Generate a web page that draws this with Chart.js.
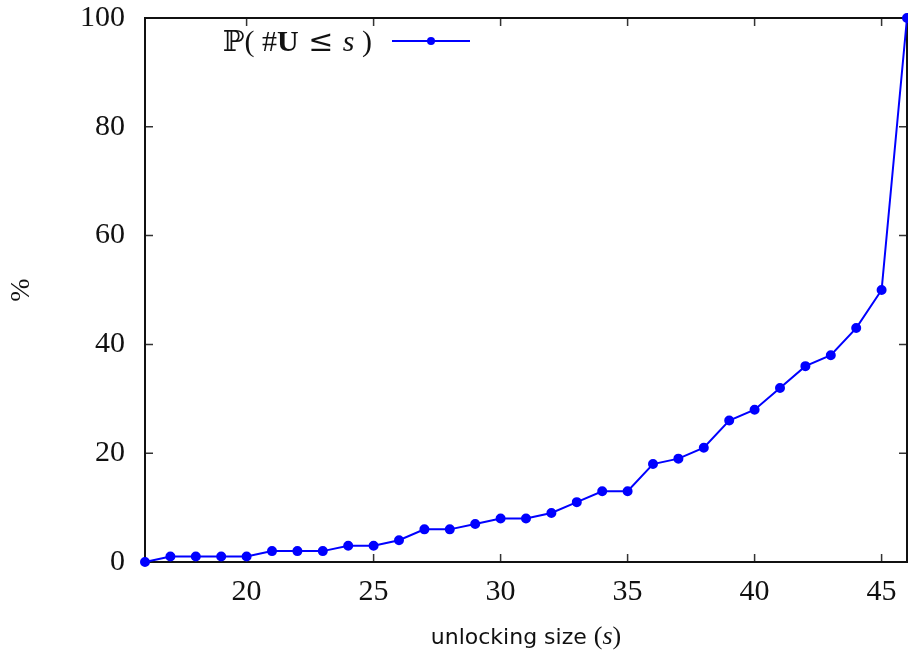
<!DOCTYPE html>
<html>
<head>
<meta charset="utf-8">
<script src="https://cdn.jsdelivr.net/npm/chart.js@4.4.0/dist/chart.umd.min.js"></script>
<style>
  html, body { margin: 0; padding: 0; background: #fff; }
  #wrap { width: 908px; height: 651px; }
</style>
</head>
<body>
<div id="wrap"><canvas id="unlock"></canvas></div>
<script>
// unlocking size s and cumulative share (%) of runs with #U <= s
const SIZES = [16, 17, 18, 19, 20, 21, 22, 23, 24, 25, 26, 27, 28, 29, 30, 31,
  32, 33, 34, 35, 36, 37, 38, 39, 40, 41, 42, 43, 44, 45, 46]
const PROB = [0, 1, 1, 1, 1, 2, 2, 2, 3, 3, 4, 6, 6, 7, 8, 8,
  9, 11, 13, 13, 18, 19, 21, 26, 28, 32, 36, 38, 43, 50, 100]
const X_TICKS = [20, 25, 30, 35, 40, 45]
const Y_TICKS = [0, 20, 40, 60, 80, 100]

const SERIF = '"Liberation Serif", "DejaVu Serif", serif'
const SANS = '"DejaVu Sans", "Liberation Sans", sans-serif'
const BLUE = '#0000ff'

// draws a run of differently styled text pieces, returns end x
const drawPieces = (ctx, pieces, x, y, measureOnly) => {
  let cx = x
  pieces.forEach(p => {
    ctx.font = p.font
    if (!measureOnly) ctx.fillText(p.text, cx, y)
    cx += ctx.measureText(p.text).width
  })
  return cx
}

// no extra room for overflowing tick labels, the box fills the canvas
const noPad = (scale) => {
  scale.paddingTop = 0
  scale.paddingBottom = 0
  scale.paddingLeft = 0
  scale.paddingRight = 0
}

// box around the plot with inward ticks on all four sides
const framePlugin = {
  id: 'frame',
  beforeDatasetsDraw(chart) {
    const { ctx, chartArea: a, scales: { x, y } } = chart
    const tl = 8
    ctx.save()
    ctx.strokeStyle = '#333'
    ctx.lineWidth = 1.5
    ctx.beginPath()
    X_TICKS.forEach(v => {
      const px = x.getPixelForValue(v)
      ctx.moveTo(px, a.bottom); ctx.lineTo(px, a.bottom - tl)
      ctx.moveTo(px, a.top); ctx.lineTo(px, a.top + tl)
    })
    Y_TICKS.forEach(v => {
      const py = y.getPixelForValue(v)
      ctx.moveTo(a.left, py); ctx.lineTo(a.left + tl, py)
      ctx.moveTo(a.right, py); ctx.lineTo(a.right - tl, py)
    })
    ctx.stroke()
    ctx.strokeStyle = '#111'
    ctx.lineWidth = 2
    ctx.strokeRect(a.left, a.top, a.right - a.left, a.bottom - a.top)
    ctx.restore()
  },
  afterDraw(chart) {
    const { ctx } = chart
    ctx.save()
    ctx.fillStyle = '#111'
    ctx.textBaseline = 'alphabetic'

    // legend: P( #U <= s ) with a line sample
    const legend = [
      { text: '\u2119', font: '29px "DejaVu Serif", serif' },
      { text: '( ', font: '30px ' + SERIF },
      { text: '#', font: '30px ' + SERIF },
      { text: 'U', font: 'bold 30px ' + SERIF },
      { text: ' \u2264 ', font: '30px "DejaVu Serif", serif' },
      { text: 's', font: 'italic 30px ' + SERIF },
      { text: ' )', font: '30px ' + SERIF }
    ]
    const lw = drawPieces(ctx, legend, 0, 0, true)
    drawPieces(ctx, legend, 372 - lw, 51)
    ctx.strokeStyle = BLUE
    ctx.lineWidth = 2
    ctx.beginPath()
    ctx.moveTo(392, 41); ctx.lineTo(470, 41)
    ctx.stroke()
    ctx.fillStyle = BLUE
    ctx.beginPath()
    ctx.arc(431, 41, 4, 0, Math.PI * 2)
    ctx.fill()

    // x axis title: unlocking size (s)
    ctx.fillStyle = '#111'
    const xt = [
      { text: 'unlocking size ', font: '22px ' + SANS },
      { text: '(', font: '26px ' + SERIF },
      { text: 's', font: 'italic 26px ' + SERIF },
      { text: ')', font: '26px ' + SERIF }
    ]
    const xw = drawPieces(ctx, xt, 0, 0, true)
    drawPieces(ctx, xt, 526 - xw / 2, 644)

    // y axis title
    ctx.translate(22, 290)
    ctx.rotate(-Math.PI / 2)
    ctx.font = '28px ' + SERIF
    ctx.textAlign = 'center'
    ctx.textBaseline = 'middle'
    ctx.fillText('%', 0, 0)
    ctx.restore()
  }
}

new Chart(document.getElementById('unlock'), {
  type: 'line',
  data: {
    datasets: [{
      label: 'P( #U <= s )',
      data: SIZES.map((s, i) => ({ x: s, y: PROB[i] })),
      borderColor: BLUE,
      backgroundColor: BLUE,
      borderWidth: 2,
      pointRadius: 4,
      pointHoverRadius: 4,
      tension: 0,
      clip: false
    }]
  },
  options: {
    responsive: true,
    maintainAspectRatio: false,
    animation: false,
    layout: { autoPadding: false, padding: { top: 18, right: 1, left: 0, bottom: 0 } },
    plugins: { legend: { display: false }, tooltip: { enabled: false } },
    scales: {
      x: {
        type: 'linear',
        min: 16,
        max: 46,
        afterFit(scale) { scale.height = 89; noPad(scale) },
        afterBuildTicks(scale) { scale.ticks = X_TICKS.map(v => ({ value: v })) },
        grid: { display: false, drawTicks: false },
        border: { display: false },
        ticks: { padding: 12, color: '#111', font: { family: SERIF, size: 30 }, maxRotation: 0 }
      },
      y: {
        min: 0,
        max: 100,
        afterFit(scale) { scale.width = 145; noPad(scale) },
        afterBuildTicks(scale) { scale.ticks = Y_TICKS.map(v => ({ value: v })) },
        grid: { display: false, drawTicks: false },
        border: { display: false },
        ticks: { padding: 20, color: '#111', font: { family: SERIF, size: 30 } }
      }
    }
  },
  plugins: [framePlugin]
})
</script>
</body>
</html>
